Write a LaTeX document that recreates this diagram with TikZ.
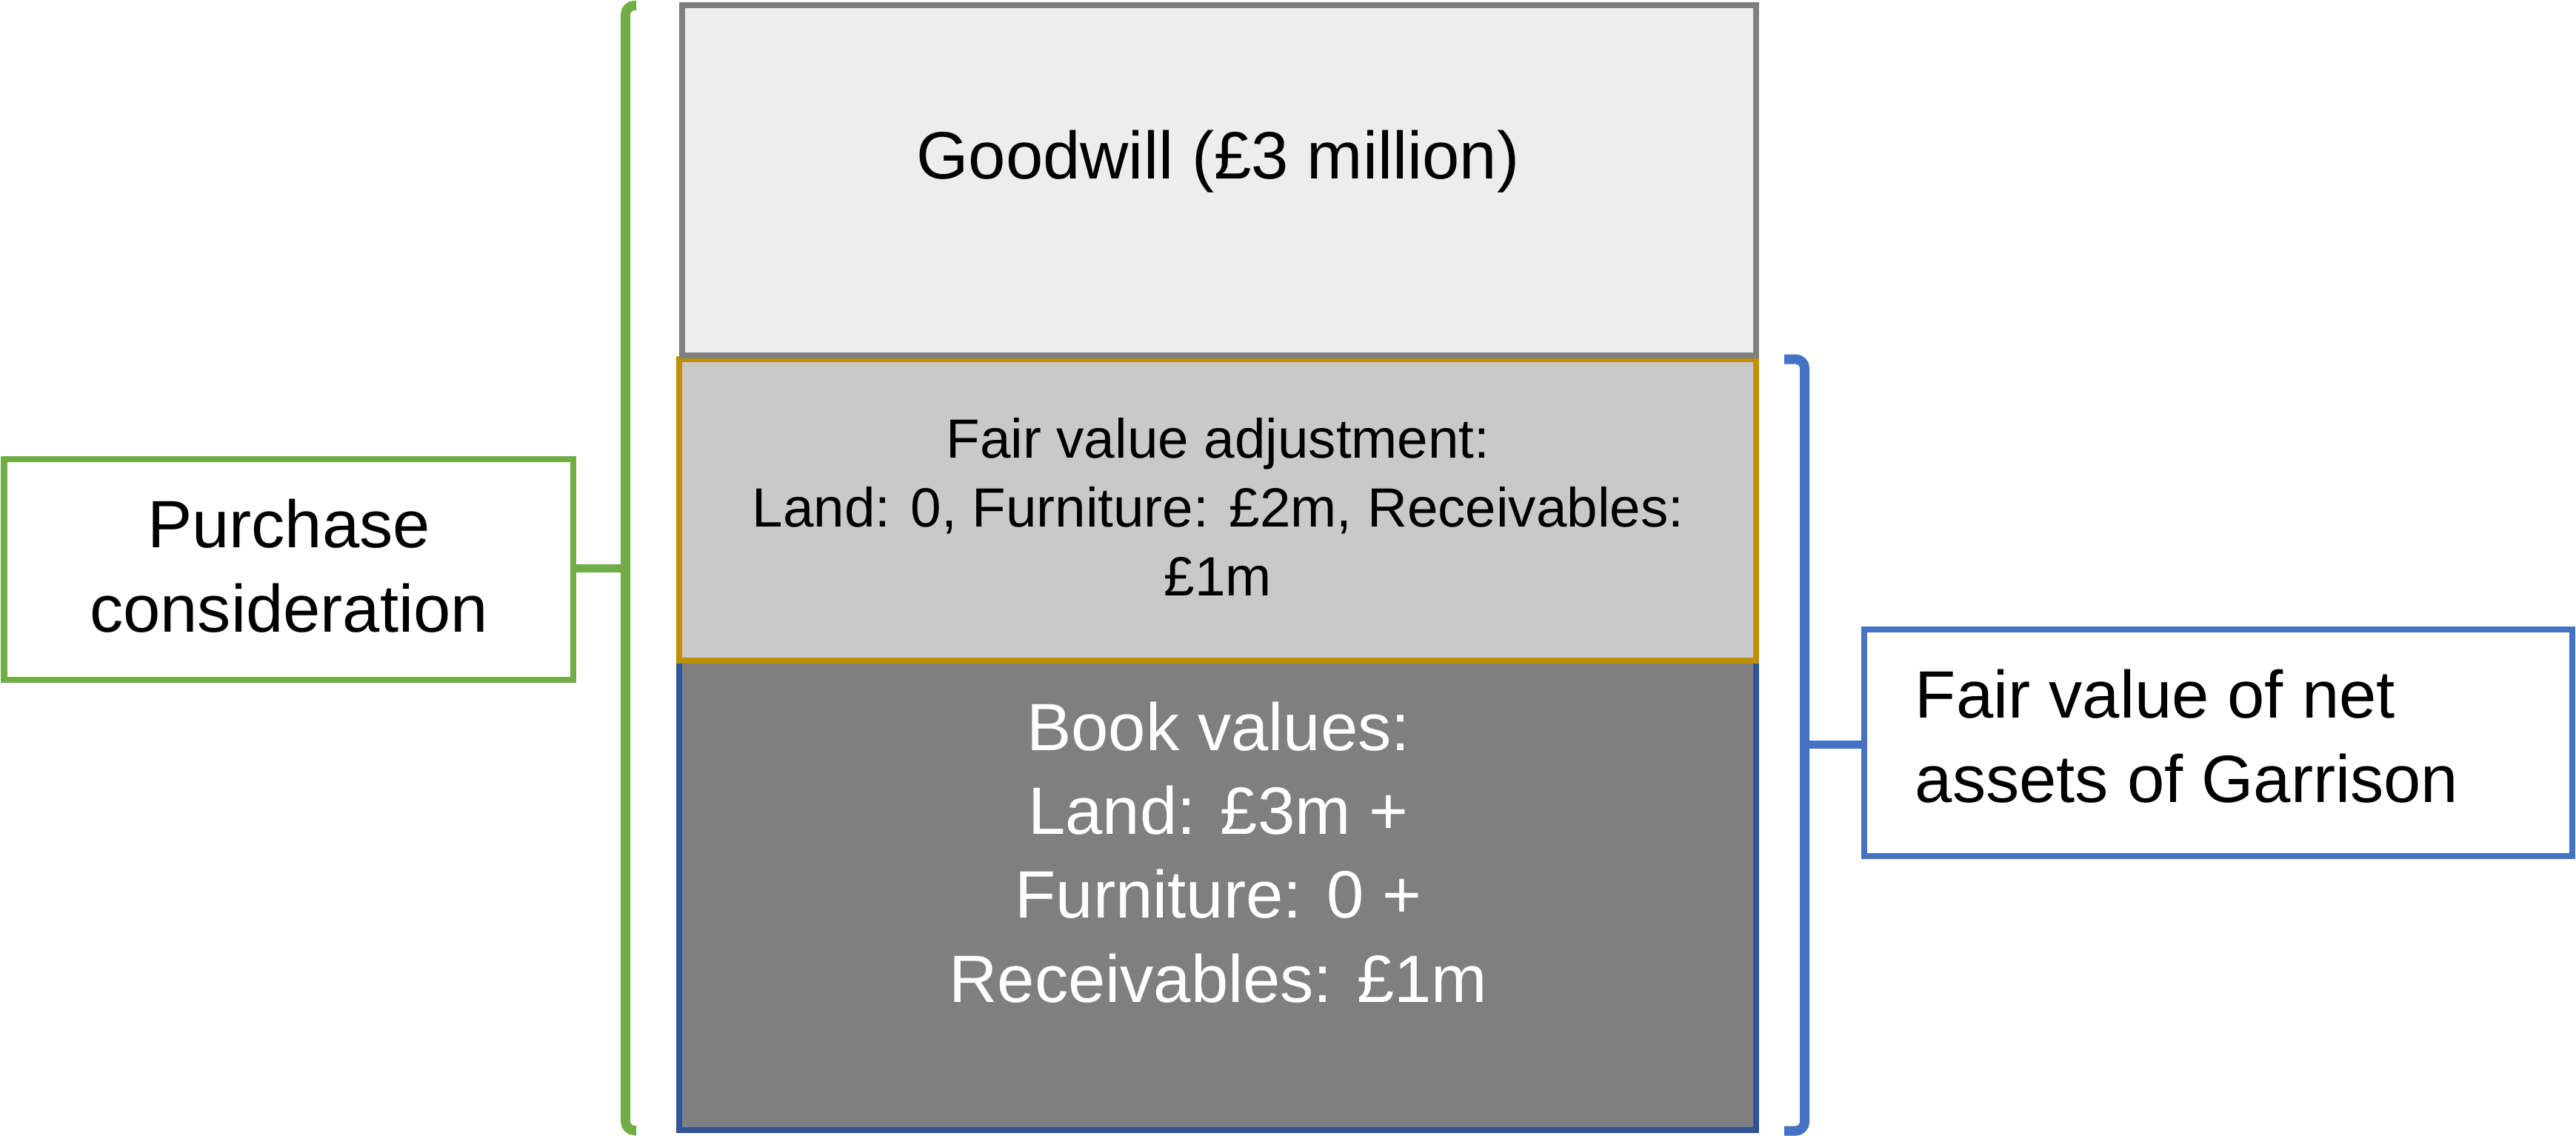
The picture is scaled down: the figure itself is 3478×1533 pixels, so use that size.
\documentclass[tikz,border=0pt]{standalone}
\usepackage{fontspec}
\setmainfont{Liberation Sans}
\definecolor{gwfill}{HTML}{EDEDED}
\definecolor{gwline}{HTML}{7F7F7F}
\definecolor{fvfill}{HTML}{C9C9C9}
\definecolor{fvline}{HTML}{BF9000}
\definecolor{bvfill}{HTML}{7F7F7F}
\definecolor{bvline}{HTML}{2F5597}
\definecolor{pcgreen}{HTML}{70AD47}
\definecolor{nablue}{HTML}{4472C4}
\tikzset{
  box/.style={rectangle, inner sep=0pt, outer sep=0pt, line width=2pt},
  bigtext/.style={inner sep=0pt, align=center, font=\fontsize{22.6pt}{28.3pt}\selectfont},
  smalltext/.style={inner sep=0pt, align=center, font=\fontsize{18.65pt}{23.25pt}\selectfont},
  bracket/.style={line width=3.25pt, rounded corners=3pt},
  tip/.style={line width=2.75pt}
}
\begin{document}
\begin{tikzpicture}[x=0.25pt, y=-0.25pt]
\useasboundingbox (0,0) rectangle (3478,1533);
% stacked boxes
\node[box, draw=bvline, fill=bvfill, minimum width=363.5pt, minimum height=158.5pt] (bv) at (1644,1209) {};
\node[box, draw=fvline, fill=fvfill, minimum width=363.5pt, minimum height=101.75pt] (fv) at (1644,688.5) {};
\node[box, draw=gwline, fill=gwfill, minimum width=362.5pt, minimum height=118.125pt] (gw) at (1646,243.25) {};
% texts of the stack (anchor base = baseline of last line)
\node[bigtext, anchor=base] (gwt) at (1644.5,241) {Goodwill (£3 million)};
\node[smalltext, anchor=base] (fvt) at (1644.5,804) {Fair value adjustment:\\Land: 0, Furniture: £2m, Receivables:\\£1m};
\node[bigtext, anchor=base, text=white] (bvt) at (1645,1353) {Book values:\\Land: £3m +\\Furniture: 0 +\\Receivables: £1m};
% side boxes
\node[box, draw=pcgreen, fill=white, minimum width=192.125pt, minimum height=74.5pt] (pc) at (389.75,769) {};
\node[bigtext, anchor=base] (pct) at (390,853) {Purchase\\consideration};
\node[box, draw=nablue, fill=white, minimum width=239pt, minimum height=76.5pt] (na) at (2995,1003) {};
\node[bigtext, anchor=base west, align=left] (nat) at (2585,1083) {Fair value of net\\assets of Garrison};
% brackets
\coordinate (gtop) at (859,7.5);
\coordinate (gbot) at (859,1526.5);
\coordinate (gmid) at (844.5,767);
\draw[bracket, draw=pcgreen] (gtop) -- (844.5,7.5) -- (844.5,1526.5) -- (gbot);
\draw[tip, draw=pcgreen] (pc.east |- gmid) -- (gmid);
\coordinate (btop) at (2409,485);
\coordinate (bbot) at (2409,1527);
\coordinate (bmid) at (2436.5,1005);
\draw[bracket, draw=nablue] (btop) -- (2436.5,485) -- (2436.5,1527) -- (bbot);
\draw[tip, draw=nablue] (bmid) -- (na.west |- bmid);
\end{tikzpicture}
\end{document}
